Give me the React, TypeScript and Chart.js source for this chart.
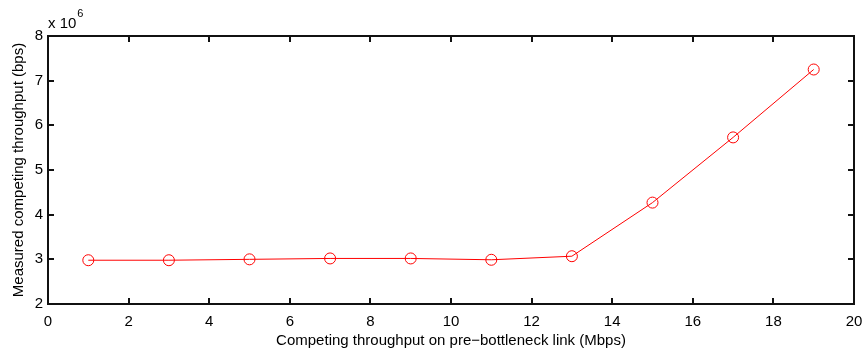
import React, { useEffect, useRef } from "react";
import { Chart, registerables } from "chart.js";

Chart.register(...registerables);

const xValues = [1, 3, 5, 7, 9, 11, 13, 15, 17, 19];
const yValues = [2980000, 2980000, 3000000, 3020000, 3020000, 2990000, 3070000, 4270000, 5730000, 7250000];
const xTicks = [0, 2, 4, 6, 8, 10, 12, 14, 16, 18, 20];
const yTicks = [2, 3, 4, 5, 6, 7, 8];
const xTitle = "Competing throughput on pre\u2212bottleneck link (Mbps)";
const yTitle = "Measured competing throughput (bps)";
const FONT = "'Liberation Sans', Arial, Helvetica, sans-serif";

const boxPlugin = {
  id: "matlabBox",
  afterDraw(chart: any) {
    const ctx = chart.ctx;
    const ca = chart.chartArea;
    const L = Math.round(ca.left);
    const R = Math.round(ca.right);
    const T = Math.round(ca.top);
    const B = Math.round(ca.bottom);
    const xs = chart.scales.x;
    const ys = chart.scales.y;
    const tl = 6;
    ctx.save();
    ctx.fillStyle = "#111111";
    ctx.fillRect(L - 1, T - 1, R - L + 2, 2);
    ctx.fillRect(L - 1, B - 1, R - L + 2, 2);
    ctx.fillRect(L - 1, T - 1, 2, B - T + 2);
    ctx.fillRect(R - 1, T - 1, 2, B - T + 2);
    for (let i = 0; i < xTicks.length; i++) {
      const px = Math.round(xs.getPixelForValue(xTicks[i]));
      ctx.fillRect(px - 1, B - tl, 2, tl);
      ctx.fillRect(px - 1, T, 2, tl);
    }
    for (let i = 0; i < yTicks.length; i++) {
      const py = Math.round(ys.getPixelForValue(yTicks[i] * 1e6));
      ctx.fillRect(L, py - 1, tl, 2);
      ctx.fillRect(R - tl, py - 1, tl, 2);
    }
    ctx.fillStyle = "#000000";
    ctx.textBaseline = "alphabetic";
    ctx.textAlign = "left";
    ctx.font = "15px " + FONT;
    ctx.fillText("x 10", L, T - 8);
    const w = ctx.measureText("x 10").width;
    ctx.font = "11px " + FONT;
    ctx.fillText("6", L + w + 1, T - 19);
    ctx.restore();
  },
};

export default function App() {
  const ref = useRef<HTMLCanvasElement | null>(null);
  useEffect(() => {
    if (!ref.current) return;
    const chart = new Chart(ref.current, {
      type: "line",
      data: {
        datasets: [
          {
            data: xValues.map((x, i) => ({ x, y: yValues[i] })),
            borderColor: "#ff0000",
            borderWidth: 1,
            backgroundColor: "rgba(0,0,0,0)",
            pointStyle: "circle",
            pointRadius: 5.5,
            pointBorderColor: "#ff0000",
            pointBackgroundColor: "rgba(0,0,0,0)",
            pointBorderWidth: 1,
            tension: 0,
            fill: false,
            clip: false,
          },
        ],
      },
      options: {
        animation: false,
        responsive: false,
        layout: { padding: { top: 36, right: 10, left: 0, bottom: 0 } },
        plugins: { legend: { display: false }, tooltip: { enabled: false } },
        scales: {
          x: {
            type: "linear",
            min: 0,
            max: 20,
            afterFit: (s: any) => { s.height = 46; s.paddingLeft = 0; s.paddingRight = 0; },
            afterBuildTicks: (s: any) => { s.ticks = xTicks.map((v) => ({ value: v })); },
            grid: { display: false, drawTicks: false, tickLength: 0 },
            border: { display: false },
            ticks: {
              color: "#000",
              font: { family: FONT, size: 15 },
              padding: 9,
              maxRotation: 0,
              autoSkip: false,
              callback: (v: any) => String(v),
            },
            title: { display: true, text: xTitle, color: "#000", font: { family: FONT, size: 15 }, padding: 0 },
          },
          y: {
            type: "linear",
            min: 2e6,
            max: 8e6,
            afterFit: (s: any) => { s.width = 48; s.paddingTop = 0; s.paddingBottom = 0; },
            afterBuildTicks: (s: any) => { s.ticks = yTicks.map((v) => ({ value: v * 1e6 })); },
            grid: { display: false, drawTicks: false, tickLength: 0 },
            border: { display: false },
            ticks: {
              color: "#000",
              font: { family: FONT, size: 15 },
              padding: 5,
              autoSkip: false,
              callback: (v: any) => String(Math.round(Number(v) / 1e6)),
            },
            title: { display: true, text: yTitle, color: "#000", font: { family: FONT, size: 15 }, padding: { top: 9.5, bottom: 0 } },
          },
        },
      },
      plugins: [boxPlugin],
    });
    return () => chart.destroy();
  }, []);
  return (
    <div style={{ position: "absolute", left: 0, top: 0, width: 864, height: 350, background: "#fff" }}>
      <canvas ref={ref} width={864} height={350} style={{ display: "block" }} />
    </div>
  );
}
